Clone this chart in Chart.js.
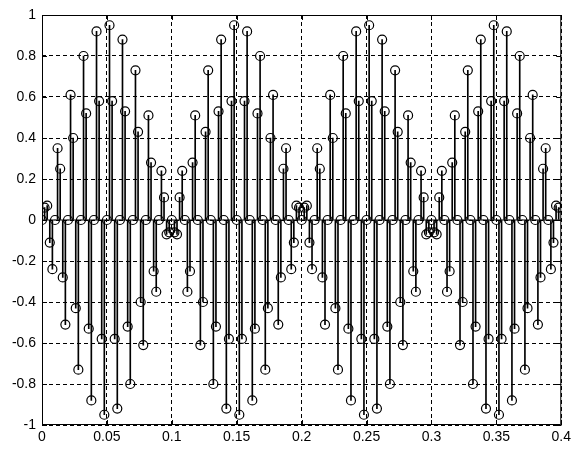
<!DOCTYPE html>
<html>
<head>
<meta charset="utf-8">
<script src="https://cdn.jsdelivr.net/npm/chart.js@4"></script>
<style>
  html, body { margin: 0; padding: 0; background: #fff; }
</style>
</head>
<body>
<canvas id="stemChart" width="575" height="450"></canvas>
<script>
// samples, one array per 0.1 s stretch
const sampleStep = 0.002;
const seg1 = [0, 0.06, 0.07, -0.11, -0.24, 0, 0.35, 0.25, -0.28, -0.51,
              0, 0.61, 0.40, -0.43, -0.73, 0, 0.80, 0.52, -0.53, -0.88,
              0, 0.92, 0.58, -0.58, -0.95, 0, 0.95, 0.58, -0.58, -0.92,
              0, 0.88, 0.53, -0.52, -0.80, 0, 0.73, 0.43, -0.40, -0.61,
              0, 0.51, 0.28, -0.25, -0.35, 0, 0.24, 0.11, -0.07, -0.06];
const seg2 = [0, -0.06, -0.07, 0.11, 0.24, 0, -0.35, -0.25, 0.28, 0.51,
              0, -0.61, -0.40, 0.43, 0.73, 0, -0.80, -0.52, 0.53, 0.88,
              0, -0.92, -0.58, 0.58, 0.95, 0, -0.95, -0.58, 0.58, 0.92,
              0, -0.88, -0.53, 0.52, 0.80, 0, -0.73, -0.43, 0.40, 0.61,
              0, -0.51, -0.28, 0.25, 0.35, 0, -0.24, -0.11, 0.07, 0.06];
const seg3 = [0, 0.06, 0.07, -0.11, -0.24, 0, 0.35, 0.25, -0.28, -0.51,
              0, 0.61, 0.40, -0.43, -0.73, 0, 0.80, 0.52, -0.53, -0.88,
              0, 0.92, 0.58, -0.58, -0.95, 0, 0.95, 0.58, -0.58, -0.92,
              0, 0.88, 0.53, -0.52, -0.80, 0, 0.73, 0.43, -0.40, -0.61,
              0, 0.51, 0.28, -0.25, -0.35, 0, 0.24, 0.11, -0.07, -0.06];
const seg4 = [0, -0.06, -0.07, 0.11, 0.24, 0, -0.35, -0.25, 0.28, 0.51,
              0, -0.61, -0.40, 0.43, 0.73, 0, -0.80, -0.52, 0.53, 0.88,
              0, -0.92, -0.58, 0.58, 0.95, 0, -0.95, -0.58, 0.58, 0.92,
              0, -0.88, -0.53, 0.52, 0.80, 0, -0.73, -0.43, 0.40, 0.61,
              0, -0.51, -0.28, 0.25, 0.35, 0, -0.24, -0.11, 0.07, 0.06];

const xTicks = [0, 0.05, 0.1, 0.15, 0.2, 0.25, 0.3, 0.35, 0.4];
const xTickLabels = ['0', '0.05', '0.1', '0.15', '0.2', '0.25', '0.3', '0.35', '0.4'];
const yTicks = [-1, -0.8, -0.6, -0.4, -0.2, 0, 0.2, 0.4, 0.6, 0.8, 1];
const yTickLabels = ['-1', '-0.8', '-0.6', '-0.4', '-0.2', '0', '0.2', '0.4', '0.6', '0.8', '1'];

const samples = seg1.concat(seg2, seg3, seg4);
const times = samples.map((_, i) => +(i * sampleStep).toFixed(3));

// box round the axes + inward tick marks, matlab style
const axesBox = {
  id: 'axesBox',
  afterDraw(chart) {
    const { ctx, chartArea: a, scales: { x, y } } = chart;
    ctx.save();
    ctx.strokeStyle = '#000';
    ctx.lineWidth = 1;
    ctx.beginPath();
    ctx.rect(a.left + 0.5, a.top + 0.5, a.right - a.left - 1, a.bottom - a.top - 1);
    xTicks.forEach(v => {
      const px = Math.round(x.getPixelForValue(v)) + 0.5;
      ctx.moveTo(px, a.bottom); ctx.lineTo(px, a.bottom - 5);
      ctx.moveTo(px, a.top); ctx.lineTo(px, a.top + 5);
    });
    yTicks.forEach(v => {
      const py = Math.round(y.getPixelForValue(v)) + 0.5;
      ctx.moveTo(a.left, py); ctx.lineTo(a.left + 5, py);
      ctx.moveTo(a.right, py); ctx.lineTo(a.right - 5, py);
    });
    ctx.stroke();
    ctx.restore();
  }
};

const tickFont = { family: 'Liberation Sans, Arial, sans-serif', size: 14 };

new Chart(document.getElementById('stemChart'), {
  type: 'scatter',
  data: {
    datasets: [
      {
        type: 'scatter',
        data: samples.map((v, i) => ({ x: times[i], y: v })),
        pointStyle: 'circle',
        pointRadius: 4.5,
        pointBorderWidth: 1.2,
        pointBorderColor: '#000',
        pointBackgroundColor: 'rgba(0,0,0,0)',
        order: 0
      },
      {
        type: 'bar',
        data: samples.map((v, i) => ({ x: times[i], y: [0, v] })),
        backgroundColor: '#000',
        borderWidth: 0,
        barThickness: 1,
        grouped: false,
        order: 1
      },
      {
        type: 'line',
        data: [{ x: 0, y: 0 }, { x: 0.4, y: 0 }],
        borderColor: '#000',
        borderWidth: 1,
        pointRadius: 0,
        order: 2
      }
    ]
  },
  options: {
    responsive: false,
    animation: false,
    events: [],
    layout: { padding: { top: 15, right: 10, left: 0, bottom: 0 } },
    plugins: { legend: { display: false }, tooltip: { enabled: false } },
    scales: {
      x: {
        type: 'linear',
        min: 0, max: 0.4,
        offset: false,
        afterBuildTicks: s => { s.ticks = xTicks.map(v => ({ value: v })); },
        afterFit: s => { s.height = 25; },
        ticks: {
          color: '#000', font: tickFont, padding: 4, maxRotation: 0,
          autoSkip: false,
          callback: (v, i) => xTickLabels[i]
        },
        grid: { color: '#000', lineWidth: 1, drawTicks: false, offset: false },
        border: { display: false, dash: [4, 3] }
      },
      y: {
        min: -1, max: 1,
        afterBuildTicks: s => { s.ticks = yTicks.map(v => ({ value: v })); },
        afterFit: s => { s.width = 42; },
        ticks: {
          color: '#000', font: tickFont, padding: 6,
          autoSkip: false,
          callback: (v, i) => yTickLabels[i]
        },
        grid: { color: '#000', lineWidth: 1, drawTicks: false, offset: false },
        border: { display: false, dash: [4, 3] }
      }
    }
  },
  plugins: [axesBox]
});
</script>
</body>
</html>
